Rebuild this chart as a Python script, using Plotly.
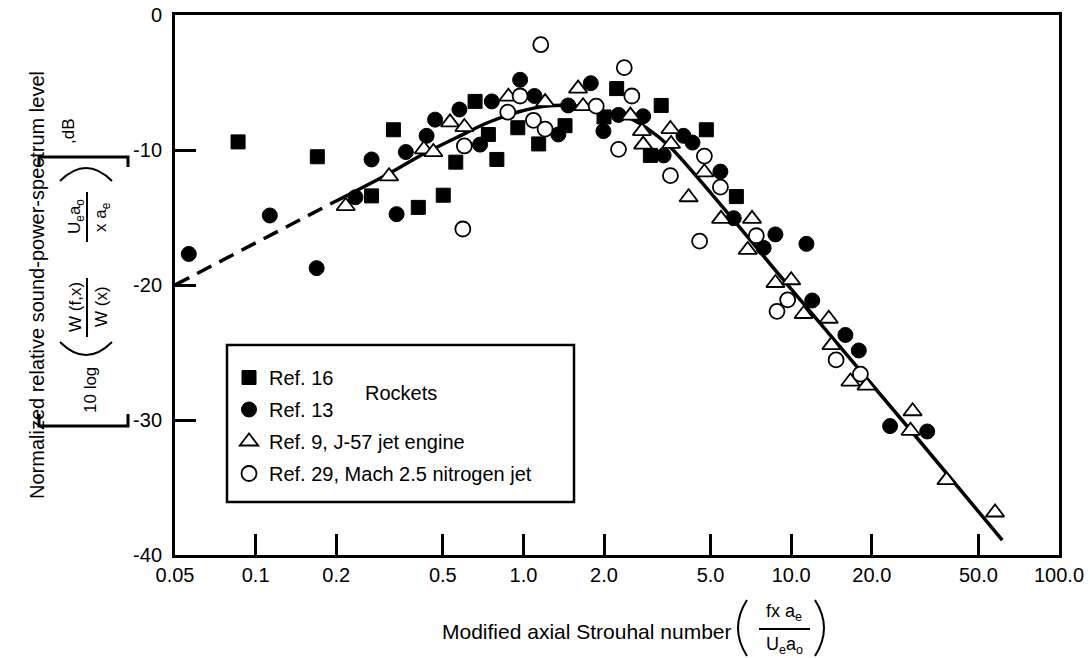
import math
import plotly.graph_objects as go

# ---------------- data ----------------
# Ref. 16 (rockets) - filled squares
ref16_x = [0.086, 0.170, 0.271, 0.327, 0.405, 0.502, 0.559, 0.660, 0.740, 0.796,
           0.953, 1.14, 1.43, 2.00, 2.23, 2.98, 3.27, 4.82, 6.24]
ref16_y = [-9.4, -10.5, -13.4, -8.5, -14.25, -13.35, -10.9, -6.4, -8.85, -10.7,
           -8.35, -9.55, -8.2, -7.55, -5.45, -10.4, -6.7, -8.5, -13.45]

# Ref. 13 (rockets) - filled circles
ref13_x = [0.0563, 0.113, 0.169, 0.236, 0.271, 0.336, 0.364, 0.435, 0.468, 0.577,
           0.689, 0.762, 0.972, 1.10, 1.35, 1.47, 1.785, 1.99, 2.265, 2.80,
           3.34, 3.96, 4.28, 5.44, 6.10, 7.89, 8.73, 11.4, 11.98, 15.94,
           17.88, 23.4, 32.2]
ref13_y = [-17.7, -14.85, -18.75, -13.5, -10.7, -14.75, -10.15, -8.95, -7.75, -7.0,
           -9.6, -6.4, -4.8, -6.0, -8.85, -6.7, -5.05, -8.6, -7.4, -7.5,
           -10.4, -8.95, -9.45, -11.6, -15.05, -17.25, -16.25, -16.95, -21.15, -23.7,
           -24.85, -30.45, -30.85]

# Ref. 9, J-57 jet engine - open triangles
ref9_x = [0.217, 0.315, 0.425, 0.461, 0.532, 0.602, 0.879, 1.205, 1.60, 1.67,
          2.51, 2.77, 2.80, 3.54, 3.56, 4.14, 4.74, 5.47, 6.88, 7.14,
          8.73, 10.0, 11.13, 13.81, 14.13, 16.64, 19.1, 27.9, 28.4, 38.0, 57.7]
ref9_y = [-14.15, -11.95, -9.95, -10.15, -7.95, -8.3, -6.05, -6.45, -5.45, -6.75,
          -7.45, -8.6, -9.6, -8.45, -9.55, -13.5, -11.65, -15.1, -17.4, -15.1,
          -19.85, -19.65, -22.15, -22.5, -24.45, -27.15, -27.45, -30.8, -29.35, -34.45, -36.85]

# Ref. 29, Mach 2.5 nitrogen jet - open circles
ref29_x = [0.594, 0.602, 0.874, 0.972, 1.09, 1.161, 1.205, 1.87, 2.265, 2.38,
           2.54, 3.54, 4.55, 4.74, 5.44, 7.41, 8.85, 9.70, 14.71, 18.13]
ref29_y = [-15.85, -9.7, -7.2, -6.0, -7.8, -2.2, -8.45, -6.75, -9.95, -3.9,
           -6.0, -11.9, -16.75, -10.45, -12.75, -16.35, -21.95, -21.1, -25.55, -26.6]

# faired curve (dashed extrapolation + solid fit)
dash_x = [0.05, 0.19]
dash_y = [-20.0, -14.0]
fit_x = [0.19, 0.318, 0.423, 0.58, 0.73, 0.97, 1.22, 1.50, 1.80, 2.0, 2.5, 2.9, 3.54, 10.0, 30.0, 61.4]
fit_y = [-14.0, -11.7, -10.3, -8.95, -8.0, -7.15, -6.75, -6.7, -6.9, -7.2, -7.65, -8.4, -9.8, -20.3, -31.5, -38.9]

x_tickvals = [0.05, 0.1, 0.2, 0.5, 1, 2, 5, 10, 20, 50, 100]
x_ticktext = ["0.05", "0.1", "0.2", "0.5", "1.0", "2.0", "5.0", "10.0", "20.0", "50.0", "100.0"]
y_tickvals = [0, -10, -20, -30, -40]
y_ticktext = ["0", "-10", "-20", "-30", "-40"]

legend_names = ["Ref. 16", "Ref. 13", "Ref. 9, J-57 jet engine", "Ref. 29, Mach 2.5 nitrogen jet"]

# ---------------- layout helpers ----------------
W, H = 1090, 658
ML, MR, MT, MB = 175, 31, 15, 103
PW = W - ML - MR
PH = H - MT - MB
FONT = "Liberation Sans, Arial, Helvetica, sans-serif"


def px(xp):
    return (xp - ML) / PW


def py(yp):
    return (H - MB - yp) / PH


fig = go.Figure()

fig.add_trace(go.Scatter(x=dash_x, y=dash_y, mode="lines", showlegend=False,
                         line=dict(color="black", width=3.5, dash="16px,9px"), hoverinfo="skip"))
fig.add_trace(go.Scatter(x=fit_x, y=fit_y, mode="lines", showlegend=False,
                         line=dict(color="black", width=3.5, shape="spline", smoothing=0.8),
                         hoverinfo="skip"))

fig.add_trace(go.Scatter(x=ref16_x, y=ref16_y, mode="markers", name=legend_names[0], legendgroup="a",
                         marker=dict(symbol="square", size=14, color="black",
                                     line=dict(color="black", width=1))))
fig.add_trace(go.Scatter(x=ref13_x, y=ref13_y, mode="markers", name=legend_names[1], legendgroup="b",
                         marker=dict(symbol="circle", size=15, color="black",
                                     line=dict(color="black", width=1))))
fig.add_trace(go.Scatter(x=ref9_x, y=ref9_y, mode="markers", name=legend_names[2], legendgroup="c",
                         marker=dict(symbol="triangle-up", size=16, color="white",
                                     line=dict(color="black", width=1.8))))
fig.add_trace(go.Scatter(x=ref29_x, y=ref29_y, mode="markers", name=legend_names[3], legendgroup="d",
                         marker=dict(symbol="circle", size=15, color="white",
                                     line=dict(color="black", width=1.8))))

shapes = []
# legend frame
shapes.append(dict(type="rect", xref="paper", yref="paper", x0=px(227), x1=px(574),
                   y0=py(502), y1=py(345), line=dict(color="black", width=2.5),
                   fillcolor="white", layer="below"))

blk = dict(color="black", width=3)
thin = dict(color="black", width=2)
# y title brackets
shapes.append(dict(type="path", xref="paper", yref="paper", line=blk,
                   path=f"M{px(39)},{py(167)} L{px(39)},{py(157)} L{px(128)},{py(157)} L{px(128)},{py(167)}"))
shapes.append(dict(type="path", xref="paper", yref="paper", line=blk,
                   path=f"M{px(39)},{py(414)} L{px(39)},{py(426)} L{px(128)},{py(426)} L{px(128)},{py(414)}"))
# y title parentheses (rotated)
shapes.append(dict(type="path", xref="paper", yref="paper", line=thin,
                   path=f"M{px(60)},{py(342)} Q{px(86)},{py(368)} {px(112)},{py(342)}"))
shapes.append(dict(type="path", xref="paper", yref="paper", line=thin,
                   path=f"M{px(60)},{py(181)} Q{px(86)},{py(155)} {px(112)},{py(181)}"))
# y title fraction bars
shapes.append(dict(type="line", xref="paper", yref="paper", line=thin,
                   x0=px(87), x1=px(87), y0=py(278), y1=py(337)))
shapes.append(dict(type="line", xref="paper", yref="paper", line=thin,
                   x0=px(87), x1=px(87), y0=py(192), y1=py(242)))
# x title fraction
shapes.append(dict(type="line", xref="paper", yref="paper", line=thin,
                   x0=px(759), x1=px(810), y0=py(629), y1=py(629)))
shapes.append(dict(type="path", xref="paper", yref="paper", line=thin,
                   path=f"M{px(747)},{py(600)} Q{px(729)},{py(628)} {px(747)},{py(656)}"))
shapes.append(dict(type="path", xref="paper", yref="paper", line=thin,
                   path=f"M{px(815)},{py(600)} Q{px(833)},{py(628)} {px(815)},{py(656)}"))


def ann(text, xp, yp, size, angle=0):
    return dict(text=text, x=px(xp), y=py(yp), xref="paper", yref="paper", showarrow=False,
                xanchor="center", yanchor="middle", textangle=angle,
                font=dict(family=FONT, size=size, color="black"))


annotations = [
    ann("Normalized relative sound-power-spectrum level", 37, 285, 20, -90),
    ann("10 log", 90, 390, 17, -90),
    ann("W (f,x)", 75, 307, 17, -90),
    ann("W (x)", 101, 307, 17, -90),
    ann("U<sub>e</sub>a<sub>o</sub>", 76, 217, 17, -90),
    ann("x a<sub>e</sub>", 102, 217, 17, -90),
    ann(",dB", 68, 131, 17, -90),
    ann("Modified axial Strouhal number", 587, 631, 21),
    ann("fx a<sub>e</sub>", 784, 612, 18),
    ann("U<sub>e</sub>a<sub>o</sub>", 784, 645, 18),
    ann("Rockets", 401, 393, 20),
]

fig.update_layout(
    width=W, height=H,
    margin=dict(l=ML, r=MR, t=MT, b=MB, autoexpand=False),
    paper_bgcolor="white", plot_bgcolor="white",
    font=dict(family=FONT, size=20, color="black"),
    showlegend=True,
    legend=dict(x=px(229), y=py(358), xanchor="left", yanchor="top",
                bgcolor="rgba(0,0,0,0)", borderwidth=0, tracegroupgap=3,
                font=dict(family=FONT, size=20, color="black")),
    shapes=shapes,
    annotations=annotations,
    xaxis=dict(type="log", range=[math.log10(0.05), 2], tickvals=x_tickvals, ticktext=x_ticktext,
               ticks="inside", ticklen=21, tickwidth=2.5, tickcolor="black", automargin=False,
               showline=True, linewidth=3, linecolor="black", mirror=True,
               showgrid=False, zeroline=False, tickfont=dict(family=FONT, size=20, color="black")),
    yaxis=dict(range=[-40, 0], tickvals=y_tickvals, ticktext=y_ticktext,
               ticks="inside", ticklen=21, tickwidth=2.5, tickcolor="black", automargin=False,
               ticklabelstandoff=6,
               showline=True, linewidth=3, linecolor="black", mirror=True,
               showgrid=False, zeroline=False, tickfont=dict(family=FONT, size=20, color="black")),
)

fig.write_html("out.html", config={"displayModeBar": False},
               post_script="document.body.style.margin='0';")
